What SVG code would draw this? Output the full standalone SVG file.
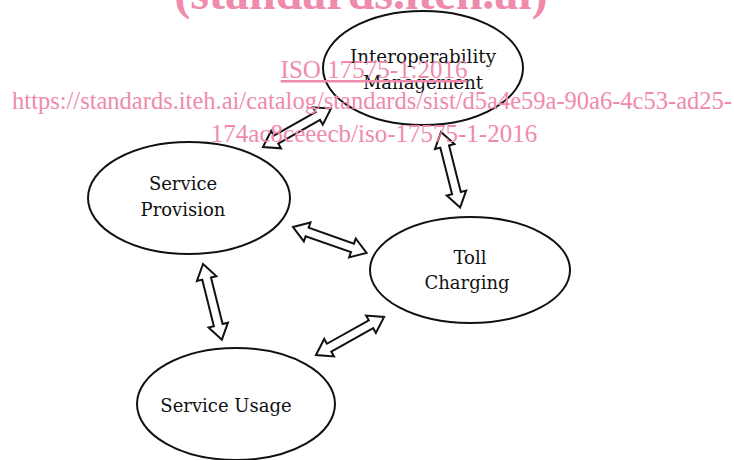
<svg xmlns="http://www.w3.org/2000/svg" width="734" height="460" viewBox="0 0 734 460">
  <style>
    .node ellipse { fill: #ffffff; stroke: #111111; stroke-width: 2; }
    .node text { font-family: "DejaVu Serif", "Liberation Serif", serif; font-size: 18px; fill: #111111; text-anchor: middle; }
    .arrow { fill: #ffffff; stroke: #111111; stroke-width: 2; stroke-linejoin: miter; }
    .wm { font-family: "Liberation Serif", "Times New Roman", serif; fill: #f08aab; text-anchor: middle; }
  </style>
  <defs>
    <path id="dblArrow" d="M0,0 L15,-10 L15,-4.5 L63,-4.5 L63,-10 L78,0 L63,10 L63,4.5 L15,4.5 L15,10 Z"/>
  </defs>
  <rect width="734" height="460" fill="#ffffff"/>

  <g id="connectors">
    <use href="#dblArrow" class="arrow" transform="translate(263,147) rotate(-29.5)"/>
    <use href="#dblArrow" class="arrow" transform="translate(441,132) rotate(75.8)"/>
    <use href="#dblArrow" class="arrow" transform="translate(293,227) rotate(19.4)"/>
    <use href="#dblArrow" class="arrow" transform="translate(203,264) rotate(76)"/>
    <use href="#dblArrow" class="arrow" transform="translate(316,355) rotate(-29.2)"/>
  </g>

  <g id="node-interoperability" class="node">
    <ellipse cx="423" cy="68" rx="100" ry="57"/>
    <text x="423" y="63" textLength="146" lengthAdjust="spacingAndGlyphs">Interoperability</text>
    <text x="423" y="89">Management</text>
  </g>
  <g id="node-service-provision" class="node">
    <ellipse cx="189" cy="198" rx="101" ry="56"/>
    <text x="183" y="190">Service</text>
    <text x="183" y="216">Provision</text>
  </g>
  <g id="node-toll-charging" class="node">
    <ellipse cx="470" cy="270" rx="100" ry="53"/>
    <text x="470" y="264">Toll</text>
    <text x="467" y="289">Charging</text>
  </g>
  <g id="node-service-usage" class="node">
    <ellipse cx="236" cy="404" rx="99" ry="56"/>
    <text x="226" y="412">Service Usage</text>
  </g>

  <g id="watermark">
    <text class="wm" x="361" y="9" font-size="48" font-weight="bold">(standards.iteh.ai)</text>
    <text class="wm" x="374" y="78" font-size="25" text-decoration="underline">ISO 17575-1:2016</text>
    <text class="wm" x="372" y="109" font-size="24.5">https://standards.iteh.ai/catalog/standards/sist/d5a4e59a-90a6-4c53-ad25-</text>
    <text class="wm" x="374" y="142" font-size="25">174ac8ceeecb/iso-17575-1-2016</text>
  </g>
</svg>
